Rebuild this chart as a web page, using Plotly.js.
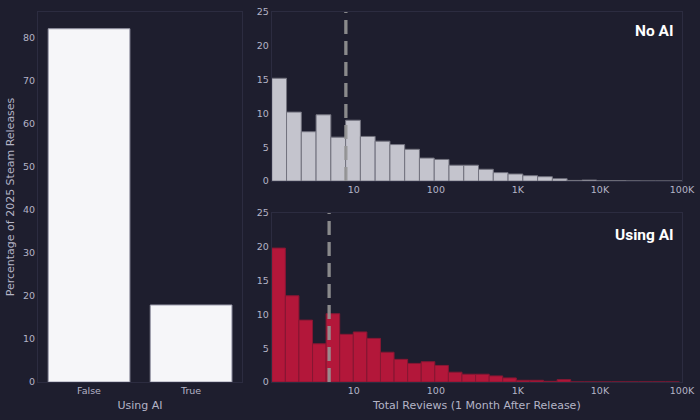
<!DOCTYPE html>
<html><head><meta charset="utf-8">
<script src="https://cdn.plot.ly/plotly-3.0.1.min.js"></script>
<style>html,body{margin:0;padding:0;background:#1e1e2e;}</style>
</head><body><div id="chart" style="width:700px;height:420px;"></div>
<script>
// Left panel: share of 2025 Steam releases by AI usage
const usingAICategories = ["False", "True"];
const releaseSharePercent = [82.1, 17.9];

// Histograms of total reviews (1 month after release), percent per log-spaced bin
const noAIBinWidthDecades = 0.18;
const noAIPercent = [15.2, 10.2, 7.3, 9.8, 6.5, 9.0, 6.6, 5.9, 5.4, 4.7, 3.4, 3.2, 2.35, 2.35, 1.75, 1.25, 1.05, 0.8, 0.65, 0.35, 0.1, 0.15, 0.04, 0.04, 0.02, 0, 0, 0];
const usingAIBinWidthDecades = 0.1656;
const usingAIPercent = [19.8, 12.75, 9.15, 5.65, 10.1, 7.05, 7.4, 6.45, 4.4, 3.35, 2.75, 3.0, 2.45, 1.45, 1.15, 1.15, 0.9, 0.6, 0.25, 0.25, 0.1, 0.35, 0, 0, 0, 0, 0, 0, 0, 0];
const medianNoAI = 8;
const medianUsingAI = 5;

const reviewTickValues = [10, 100, 1000, 10000, 100000];
const reviewTickLabels = ["10", "100", "1K", "10K", "100K"];

const binCenters = (vals, w) => vals.map((_, i) => (i + 0.5) * w);

const tickFont = {family: "DejaVu Sans", size: 9.5, color: "#b4b4c6"};
const titleFont = {family: "DejaVu Sans", size: 11, color: "#b4b4c6"};
const frame = {showline: true, mirror: true, linecolor: "#2c2c40", linewidth: 1, showgrid: false, zeroline: false, ticks: "", tickfont: tickFont};

const traces = [
  {type: "bar", x: usingAICategories, y: releaseSharePercent, xaxis: "x", yaxis: "y",
   width: 0.8, marker: {color: "#f6f6f9", line: {color: "#9a9aaa", width: 1}}, hoverinfo: "x+y"},
  {type: "bar", x: binCenters(noAIPercent, noAIBinWidthDecades), y: noAIPercent, xaxis: "x2", yaxis: "y2",
   width: noAIBinWidthDecades, marker: {color: "#c4c4cd", line: {color: "#72727e", width: 1}}},
  {type: "bar", x: binCenters(usingAIPercent, usingAIBinWidthDecades), y: usingAIPercent, xaxis: "x3", yaxis: "y3",
   width: usingAIBinWidthDecades, marker: {color: "#b3173a", line: {color: "#861733", width: 1}}}
];

const logTicks = reviewTickValues.map(Math.log10);

const layout = {
  width: 700, height: 420,
  paper_bgcolor: "#1e1e2e", plot_bgcolor: "#1e1e2e",
  margin: {l: 38, r: 18, t: 12, b: 38},
  showlegend: false, bargap: 0,
  xaxis: Object.assign({}, frame, {domain: [0, 0.317], range: [-0.5, 1.5],
    title: {text: "Using AI", font: titleFont, standoff: 5}}),
  yaxis: Object.assign({}, frame, {domain: [0, 1], range: [0, 86], dtick: 10,
    title: {text: "Percentage of 2025 Steam Releases", font: titleFont, standoff: 6}}),
  xaxis2: Object.assign({}, frame, {domain: [0.363, 1], range: [0, 5], tickvals: logTicks, ticktext: reviewTickLabels, anchor: "y2"}),
  yaxis2: Object.assign({}, frame, {domain: [0.543, 1], range: [0, 25], dtick: 5, anchor: "x2"}),
  xaxis3: Object.assign({}, frame, {domain: [0.363, 1], range: [0, 5], tickvals: logTicks, ticktext: reviewTickLabels, anchor: "y3",
    title: {text: "Total Reviews (1 Month After Release)", font: titleFont, standoff: 5}}),
  yaxis3: Object.assign({}, frame, {domain: [0, 0.457], range: [0, 25], dtick: 5, anchor: "x3"}),
  shapes: [
    {type: "line", xref: "x2", yref: "y2", x0: Math.log10(medianNoAI), x1: Math.log10(medianNoAI), y0: 0, y1: 25,
     line: {color: "rgba(150,150,150,0.9)", width: 3.3, dash: "14px,7px"}, layer: "above"},
    {type: "line", xref: "x3", yref: "y3", x0: Math.log10(medianUsingAI), x1: Math.log10(medianUsingAI), y0: 0, y1: 25,
     line: {color: "rgba(150,150,150,0.9)", width: 3.3, dash: "14px,7px"}, layer: "above"}
  ],
  annotations: [
    {text: "<b>No AI</b>", xref: "x2 domain", yref: "y2 domain", x: 0.985, y: 0.89, xanchor: "right", yanchor: "middle",
     showarrow: false, font: {family: "Roboto", size: 15.5, color: "#ffffff"}},
    {text: "<b>Using AI</b>", xref: "x3 domain", yref: "y3 domain", x: 0.985, y: 0.872, xanchor: "right", yanchor: "middle",
     showarrow: false, font: {family: "Roboto", size: 15.5, color: "#ffffff"}}
  ]
};

Plotly.newPlot("chart", traces, layout, {displayModeBar: false, staticPlot: true});
</script>
</body></html>
